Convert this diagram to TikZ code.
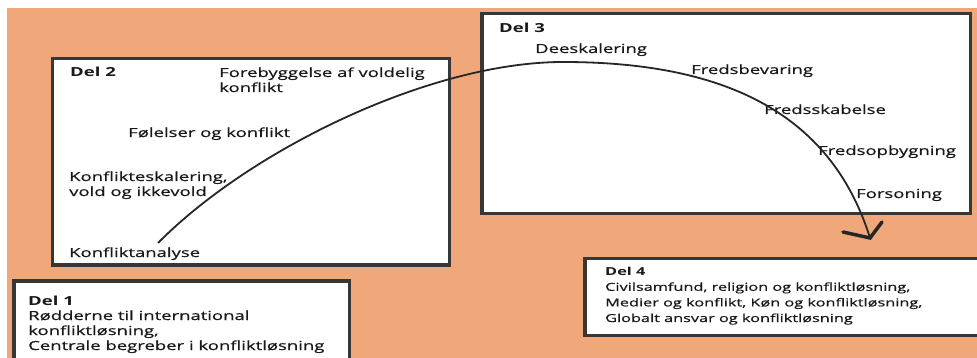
\documentclass[tikz,border=0pt]{standalone}
\usepackage{fontspec}
\setmainfont{Open Sans}[FakeStretch=1.48, UprightFeatures={FakeBold=0.6}]
\definecolor{bgorange}{RGB}{240,168,122}
\definecolor{boxline}{RGB}{55,55,55}
\definecolor{inktext}{RGB}{25,25,25}

\begin{document}
\begin{tikzpicture}[x=1pt, y=-1pt, partbox/.style={draw=boxline, fill=white, line width=3.5pt, rectangle, anchor=north west, outer sep=0pt, inner sep=0pt}, lbl/.style={anchor=base west, inner sep=0pt, align=left, text=inktext, font=\fontsize{12.5}{15}\selectfont}, curveline/.style={draw=black!85, line width=1.8pt}, barb/.style={draw=black!85, line width=3.5pt, line cap=round, line join=miter}]
    \useasboundingbox (0,0) rectangle (977,358);
    \clip (0,0) rectangle (977,358);
    \fill[bgorange] (7,8) rectangle (977,358);

    % boxes
    \node[partbox, minimum width=397pt, minimum height=206.5pt] (del2) at (52.5,58.5) {};
    \node[partbox, minimum width=488.5pt, minimum height=200pt] (del3) at (482,13.5) {};
    \node[partbox, minimum width=335.5pt, minimum height=90pt] (del1) at (14,281) {};
    \node[partbox, minimum width=400pt, minimum height=77pt] (del4) at (585,258.5) {};

    % nodes (base = last line)
    \node[lbl, font=\fontsize{12.5}{15}\selectfont\bfseries] (h2) at (70,77) {Del 2};
    \node[lbl] (forebyg) at (219,92) {Forebyggelse af voldelig\\konflikt};
    \node[lbl] (foelelser) at (128,137) {Følelser og konflikt};
    \node[lbl] (eskal) at (69,196) {Konflikteskalering,\\vold og ikkevold};
    \node[lbl] (analyse) at (69,257) {Konfliktanalyse};

    \node[lbl, font=\fontsize{12.5}{15}\selectfont\bfseries] (h3) at (499,33) {Del 3};
    \node[lbl] (deeskal) at (535,53) {Deeskalering};
    \node[lbl] (bevar) at (691,74) {Fredsbevaring};
    \node[lbl] (skab) at (764,114) {Fredsskabelse};
    \node[lbl] (opbyg) at (818,155) {Fredsopbygning};
    \node[lbl] (forson) at (856,198) {Forsoning};

    \node[lbl] (txt1) at (28,350) {\textbf{Del 1}\\Rødderne til international\\konfliktløsning,\\Centrale begreber i konfliktløsning};
    \node[lbl, font=\fontsize{11}{15.6}\selectfont] (txt4) at (605,322) {\textbf{Del 4}\\Civilsamfund, religion og konfliktløsning,\\Medier og konflikt, Køn og konfliktløsning,\\Globalt ansvar og konfliktløsning};

    % arrows
    \coordinate (start) at (158,243);
    \coordinate (peak) at (563,62);
    \coordinate (tip) at (870,238);
    \draw[curveline] (start) .. controls (250,150) and (430,62) .. (peak) .. controls (720,62) and (830,110) .. (tip);
    \draw[barb] (tip) ++(-27,-6) -- (tip) -- ++(12,-16);
\end{tikzpicture}
\end{document}
